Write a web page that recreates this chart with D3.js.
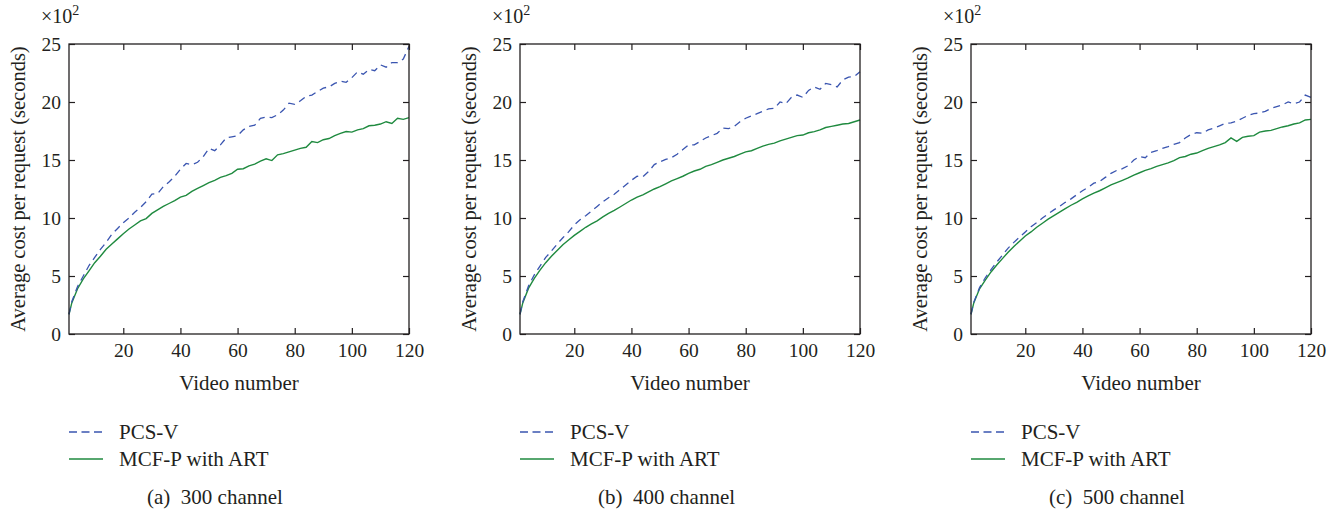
<!DOCTYPE html>
<html>
<head>
<meta charset="utf-8">
<script src="https://cdn.jsdelivr.net/npm/d3@7"></script>
<style>
  body { margin: 0; background: #fff; }
  text { font-family: "Liberation Serif", "DejaVu Serif", serif; fill: #231f20; }
</style>
</head>
<body>
<div id="chart"></div>
<script>
// video numbers sampled along the x axis
var videos = [1, 2, 4, 6, 8, 10, 12, 14, 16, 18, 20, 22, 24, 26, 28, 30, 32, 34, 36, 38, 40,
  42, 44, 46, 48, 50, 52, 54, 56, 58, 60, 62, 64, 66, 68, 70, 72, 74, 76, 78, 80,
  82, 84, 86, 88, 90, 92, 94, 96, 98, 100, 102, 104, 106, 108, 110, 112, 114, 116, 118, 120]

var seriesNames = ["PCS-V", "MCF-P with ART"]
var captions = ["(a)  300 channel", "(b)  400 channel", "(c)  500 channel"]
var xTicks = [20, 40, 60, 80, 100, 120]
var yTicks = [0, 5, 10, 15, 20, 25]

// average cost per request, x10^2 seconds
var pcs300 = [1.7, 2.8, 4.1, 5.0, 5.9, 6.6, 7.3, 7.9, 8.6, 9.1, 9.6, 10.0, 10.5, 10.9, 11.4, 12.05, 12.1, 12.7, 13.1, 13.6, 14.2,
  14.7, 14.6, 14.8, 15.3, 16.0, 15.8, 16.3, 16.9, 17.0, 17.1, 17.6, 17.9, 18.0, 18.6, 18.7, 18.65, 18.9, 19.3, 19.9, 19.8,
  20.1, 20.5, 20.6, 20.9, 21.2, 21.3, 21.6, 21.8, 21.7, 22.1, 22.6, 22.4, 22.8, 22.7, 23.2, 23.0, 23.4, 23.4, 23.7, 24.8]
var mcf300 = [1.7, 2.7, 3.9, 4.75, 5.45, 6.15, 6.7, 7.3, 7.75, 8.2, 8.65, 9.05, 9.4, 9.75, 9.95, 10.4, 10.7, 11.0, 11.25, 11.5, 11.8,
  11.95, 12.3, 12.55, 12.8, 13.05, 13.25, 13.5, 13.65, 13.85, 14.2, 14.25, 14.5, 14.65, 14.9, 15.1, 14.95, 15.45, 15.55, 15.7, 15.85,
  16.0, 16.1, 16.6, 16.5, 16.75, 16.85, 17.1, 17.3, 17.45, 17.4, 17.6, 17.7, 17.95, 18.0, 18.1, 18.3, 18.15, 18.6, 18.5, 18.65]

var pcs400 = [1.7, 2.8, 4.15, 5.1, 5.85, 6.6, 7.15, 7.75, 8.3, 8.8, 9.4, 9.85, 10.2, 10.6, 11.0, 11.4, 11.75, 12.05, 12.45, 12.85, 13.25,
  13.6, 13.55, 14.0, 14.6, 14.85, 15.05, 15.2, 15.5, 15.9, 16.3, 16.3, 16.6, 16.9, 17.1, 17.3, 17.75, 17.7, 17.9, 18.3, 18.6,
  18.8, 19.0, 19.2, 19.4, 19.45, 20.0, 19.85, 20.4, 20.6, 20.4, 21.0, 21.3, 21.1, 21.6, 21.5, 21.3, 21.9, 22.15, 22.2, 22.6]
var mcf400 = [1.7, 2.7, 3.95, 4.8, 5.5, 6.15, 6.7, 7.2, 7.7, 8.1, 8.5, 8.85, 9.2, 9.5, 9.75, 10.1, 10.4, 10.65, 10.95, 11.25, 11.55,
  11.8, 12.0, 12.25, 12.5, 12.7, 12.95, 13.2, 13.4, 13.6, 13.85, 14.05, 14.2, 14.45, 14.6, 14.8, 15.0, 15.15, 15.3, 15.5, 15.7,
  15.8, 16.0, 16.2, 16.35, 16.45, 16.65, 16.8, 16.95, 17.1, 17.15, 17.35, 17.45, 17.6, 17.8, 17.9, 18.0, 18.1, 18.15, 18.3, 18.45]

var pcs500 = [1.7, 2.75, 4.0, 4.85, 5.55, 6.2, 6.8, 7.4, 7.9, 8.35, 8.8, 9.25, 9.6, 10.0, 10.35, 10.7, 11.0, 11.35, 11.65, 12.0, 12.35,
  12.65, 13.0, 13.15, 13.5, 13.85, 14.1, 14.25, 14.5, 15.0, 15.3, 15.2, 15.65, 15.8, 16.0, 16.15, 16.35, 16.5, 16.9, 17.2, 17.35,
  17.3, 17.6, 17.75, 17.95, 18.15, 18.2, 18.35, 18.6, 18.85, 19.0, 19.05, 19.2, 19.45, 19.6, 19.75, 20.0, 19.85, 20.0, 20.6, 20.4]
var mcf500 = [1.7, 2.7, 3.9, 4.65, 5.35, 5.95, 6.5, 7.05, 7.55, 8.0, 8.45, 8.8, 9.2, 9.55, 9.9, 10.2, 10.5, 10.8, 11.1, 11.35, 11.65,
  11.9, 12.15, 12.35, 12.6, 12.85, 13.05, 13.25, 13.45, 13.7, 13.9, 14.1, 14.25, 14.45, 14.6, 14.75, 14.95, 15.2, 15.3, 15.5, 15.6,
  15.8, 16.0, 16.15, 16.3, 16.5, 16.9, 16.6, 16.95, 17.05, 17.1, 17.4, 17.5, 17.55, 17.7, 17.85, 17.95, 18.1, 18.2, 18.45, 18.5]

var panels = [
  {left: 69, pcs: pcs300, mcf: mcf300, caption: captions[0]},
  {left: 520, pcs: pcs400, mcf: mcf400, caption: captions[1]},
  {left: 971, pcs: pcs500, mcf: mcf500, caption: captions[2]}
]

var blue = "#3a55b0", green = "#1f8a3f", ink = "#231f20"
var plotTop = 44, width = 340, height = 290

var svg = d3.select("#chart").append("svg")
    .attr("width", 1344)
    .attr("height", 510)

panels.forEach(function(p) {
    var x = d3.scaleLinear().domain([1, 120]).range([0, width])
    var y = d3.scaleLinear().domain([0, 25]).range([height, 0])

    var g = svg.append("g")
        .attr("transform", "translate(" + p.left + "," + plotTop + ")")

    var line = d3.line()
        .x(function(d, i) { return x(videos[i]) })
        .y(function(d) { return y(d) })

    g.append("path")
        .datum(p.mcf)
        .attr("fill", "none")
        .attr("stroke", green)
        .attr("stroke-width", 1.4)
        .attr("d", line)

    g.append("path")
        .datum(p.pcs)
        .attr("fill", "none")
        .attr("stroke", blue)
        .attr("stroke-width", 1.3)
        .attr("stroke-dasharray", "7,5")
        .attr("d", line)

    // axes, ticks pointing inward
    var bottom = g.append("g")
        .attr("transform", "translate(0," + height + ")")
        .call(d3.axisBottom(x).tickValues(xTicks).tickSize(-6).tickPadding(9))
    var left = g.append("g")
        .call(d3.axisLeft(y).tickValues(yTicks).tickSize(-6).tickPadding(8))
    var topAx = g.append("g")
        .call(d3.axisTop(x).tickValues(xTicks).tickSize(-6).tickFormat(""))
    var right = g.append("g")
        .attr("transform", "translate(" + width + ",0)")
        .call(d3.axisRight(y).tickValues(yTicks).tickSize(-6).tickFormat(""))

    ;[bottom, left, topAx, right].forEach(function(a) {
        a.select(".domain").remove()
        a.selectAll("line").attr("stroke", ink).attr("stroke-width", 1.2)
        a.selectAll("text")
            .style("font-family", '"Liberation Serif", serif')
            .style("font-size", "19.5px")
            .attr("fill", ink)
    })
    bottom.selectAll("text").attr("dy", "0.72em")

    g.append("rect")
        .attr("width", width)
        .attr("height", height)
        .attr("fill", "none")
        .attr("stroke", ink)
        .attr("stroke-width", 1.3)

    // x10^2 multiplier
    var mult = g.append("text")
        .attr("x", -28)
        .attr("y", -21)
        .style("font-size", "20px")
    mult.append("tspan").text("\u00d710")
    mult.append("tspan").attr("dy", -8).style("font-size", "14px").text("2")

    g.append("text")
        .attr("transform", "translate(-51," + (height / 2) + ") rotate(-90)")
        .attr("text-anchor", "middle")
        .attr("dy", "0.35em")
        .style("font-size", "20.5px")
        .text("Average cost per request (seconds)")

    g.append("text")
        .attr("x", width / 2)
        .attr("y", height + 49)
        .attr("text-anchor", "middle")
        .attr("dy", "0.35em")
        .style("font-size", "21px")
        .text("Video number")

    // legend
    var leg = svg.append("g")
        .attr("transform", "translate(" + p.left + ",0)")
    leg.append("line")
        .attr("x1", 0).attr("x2", 34)
        .attr("y1", 432).attr("y2", 432)
        .attr("stroke", blue).attr("stroke-width", 1.4)
        .attr("stroke-dasharray", "8,4.5")
    leg.append("text")
        .attr("x", 50).attr("y", 432).attr("dy", "0.35em")
        .style("font-size", "21px")
        .text(seriesNames[0])
    leg.append("line")
        .attr("x1", 0).attr("x2", 34)
        .attr("y1", 459).attr("y2", 459)
        .attr("stroke", green).attr("stroke-width", 1.4)
    leg.append("text")
        .attr("x", 50).attr("y", 459).attr("dy", "0.35em")
        .style("font-size", "21px")
        .text(seriesNames[1])

    leg.append("text")
        .attr("x", 78).attr("y", 497).attr("dy", "0.35em")
        .style("font-size", "21px")
        .style("white-space", "pre")
        .text(p.caption)
})
</script>
</body>
</html>
